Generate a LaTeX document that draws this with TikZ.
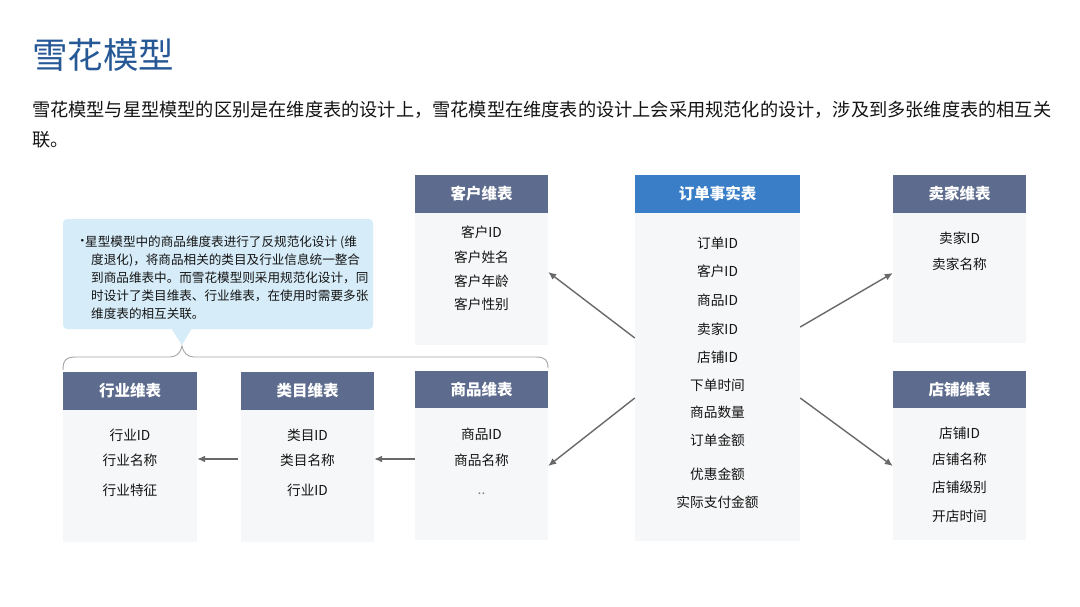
\documentclass[tikz,border=0pt]{standalone}
\usepackage{fontspec}
\setmainfont{Noto Sans CJK SC}
\usetikzlibrary{arrows.meta}
\definecolor{titleblue}{RGB}{38,88,150}
\definecolor{hdr}{RGB}{93,108,142}
\definecolor{facthdr}{RGB}{58,126,200}
\definecolor{bodyc}{RGB}{246,247,248}
\definecolor{calloutc}{RGB}{214,236,248}
\definecolor{arrc}{RGB}{105,105,105}
\definecolor{bracec}{RGB}{165,165,165}
\definecolor{txt}{RGB}{20,20,20}
\tikzset{
  hdrbox/.style={fill=hdr, draw=none, inner sep=0, text=white, font=\fontsize{15.5}{18}\selectfont\bfseries},
  facthdrbox/.style={hdrbox, fill=facthdr},
  bodybox/.style={fill=bodyc, draw=none, inner sep=0},
  item/.style={inner sep=0, text=txt, font=\fontsize{13.7}{16}\selectfont},
  cline/.style={inner sep=0, anchor=west, text=txt, font=\fontsize{12.6}{15}\selectfont},
  conn/.style={draw=arrc, line width=1.4pt, -{Latex[length=8pt,width=7pt]}},
}
\begin{document}
\begin{tikzpicture}[x=1pt,y=-1pt]
\useasboundingbox[fill=white] (0,0) rectangle (1080,606);

% title and paragraph
\node[inner sep=0, anchor=west, text=titleblue, font=\fontsize{35.5}{40}\selectfont] (title) at (32,55) {雪花模型};
\node[inner sep=0, anchor=west, text=txt, font=\fontsize{18.2}{22}\selectfont] (p1) at (32,110) {雪花模型与星型模型的区别是在维度表的设计上，雪花模型在维度表的设计上会采用规范化的设计，涉及到多张维度表的相互关};
\node[inner sep=0, anchor=west, text=txt, font=\fontsize{18.2}{22}\selectfont] (p2) at (32,140) {联。};

% 客户维表
\node[bodybox, minimum width=133pt, minimum height=132pt] (kh) at (481.5,279) {};
\node[hdrbox, minimum width=133pt, minimum height=38pt] (khh) at (481.5,194) {客户维表};
\node[item] (kh1) at (481.5,232) {客户ID};
\node[item] (kh2) at (481.5,257) {客户姓名};
\node[item] (kh3) at (481.5,281) {客户年龄};
\node[item] (kh4) at (481.5,304) {客户性别};

% 订单事实表
\node[bodybox, minimum width=165pt, minimum height=328pt] (fact) at (717.5,377) {};
\node[facthdrbox, minimum width=165pt, minimum height=38pt] (facth) at (717.5,194) {订单事实表};
\node[item] (f1) at (717.5,243) {订单ID};
\node[item] (f2) at (717.5,271) {客户ID};
\node[item] (f3) at (717.5,300) {商品ID};
\node[item] (f4) at (717.5,329) {卖家ID};
\node[item] (f5) at (717.5,357) {店铺ID};
\node[item] (f6) at (717.5,385) {下单时间};
\node[item] (f7) at (717.5,412) {商品数量};
\node[item] (f8) at (717.5,440) {订单金额};
\node[item] (f9) at (717.5,474) {优惠金额};
\node[item] (f10) at (717.5,502) {实际支付金额};

% 卖家维表
\node[bodybox, minimum width=133pt, minimum height=130pt] (mj) at (959.5,278) {};
\node[hdrbox, minimum width=133pt, minimum height=38pt] (mjh) at (959.5,194) {卖家维表};
\node[item] (mj1) at (959.5,238) {卖家ID};
\node[item] (mj2) at (959.5,264) {卖家名称};

% 店铺维表
\node[bodybox, minimum width=133pt, minimum height=132pt] (dp) at (959.5,474) {};
\node[hdrbox, minimum width=133pt, minimum height=37pt] (dph) at (959.5,389.5) {店铺维表};
\node[item] (dp1) at (959.5,433) {店铺ID};
\node[item] (dp2) at (959.5,459) {店铺名称};
\node[item] (dp3) at (959.5,487) {店铺级别};
\node[item] (dp4) at (959.5,516) {开店时间};

% 商品维表
\node[bodybox, minimum width=133pt, minimum height=132pt] (sp) at (481.5,474) {};
\node[hdrbox, minimum width=133pt, minimum height=37pt] (sph) at (481.5,389.5) {商品维表};
\node[item] (sp1) at (481.5,434) {商品ID};
\node[item] (sp2) at (481.5,460) {商品名称};
\node[item, text=gray] (sp3) at (481.5,494) {..};

% 类目维表
\node[bodybox, minimum width=133pt, minimum height=132pt] (lm) at (307.5,476) {};
\node[hdrbox, minimum width=133pt, minimum height=38pt] (lmh) at (307.5,391) {类目维表};
\node[item] (lm1) at (307.5,435) {类目ID};
\node[item] (lm2) at (307.5,460) {类目名称};
\node[item] (lm3) at (307.5,490) {行业ID};

% 行业维表
\node[bodybox, minimum width=134pt, minimum height=132pt] (hy) at (130,476) {};
\node[hdrbox, minimum width=134pt, minimum height=38pt] (hyh) at (130,391) {行业维表};
\node[item] (hy1) at (130,435) {行业ID};
\node[item] (hy2) at (130,460) {行业名称};
\node[item] (hy3) at (130,490) {行业特征};

% callout
\node[fill=calloutc, rounded corners=4pt, minimum width=310pt, minimum height=110pt, inner sep=0] (co) at (218,274) {};
\fill[calloutc] (171,328) -- (182,345) -- (192,328) -- cycle;
\node[cline] (cb) at (76,242) {·};
\node[cline] (c1) at (85,242) {星型模型中的商品维度表进行了反规范化设计 (维};
\node[cline] (c2) at (91,260) {度退化)，将商品相关的类目及行业信息统一整合};
\node[cline] (c3) at (91,278) {到商品维表中。而雪花模型则采用规范化设计，同};
\node[cline] (c4) at (91,296) {时设计了类目维表、行业维表，在使用时需要多张};
\node[cline] (c5) at (91,314) {维度表的相互关联。};

% brace
\draw[bracec, line width=0.9pt] (63,370) .. controls (63,360) and (66,357) .. (76,357) -- (170,357)
  .. controls (177,357) and (181,352) .. (182,346)
  .. controls (183,352) and (187,357) .. (194,357) -- (536,357)
  .. controls (545,357) and (548,360) .. (548,368);

% connectors
\draw[conn] ([yshift=39pt]fact.west) -- ([yshift=7pt]kh.east);
\draw[conn] ([yshift=50pt]fact.east) -- ([yshift=5pt]mj.west);
\draw[conn] ([yshift=-21pt]fact.west) -- ([yshift=8pt]sp.east);
\draw[conn] ([yshift=-21pt]fact.east) -- ([yshift=8pt]dp.west);
\draw[conn] ([yshift=15pt]sp.west) -- ([yshift=17pt]lm.east);
\draw[conn] ([yshift=17pt,xshift=-3pt]lm.west) -- ([yshift=17pt]hy.east);
\end{tikzpicture}
\end{document}
